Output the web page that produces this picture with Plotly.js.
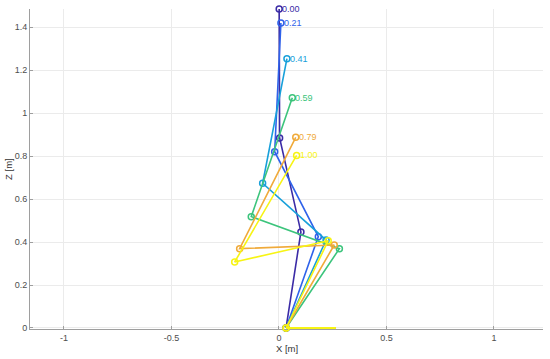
<!DOCTYPE html>
<html>
<head>
<meta charset="utf-8">
<script src="https://cdn.plot.ly/plotly-3.0.1.min.js"></script>
<style>html,body{margin:0;padding:0;background:#fff;}#plot{width:550px;height:359px;}</style>
</head>
<body>
<div id="plot"></div>
<script>
// Snapshot times (labels) and joint coordinates [m]
const times  = ["0.00", "0.21", "0.41", "0.59", "0.79", "1.00"];
const colors = ["#3b2ba6", "#2f62ea", "#18a0da", "#3cc47c", "#f0aa3a", "#f7f414"];
const topX   = [0.001, 0.009, 0.037, 0.062, 0.078, 0.082];
const topZ   = [1.484, 1.419, 1.253, 1.071, 0.887, 0.803];
const kneeX  = [0.003, -0.020, -0.076, -0.129, -0.183, -0.206];
const kneeZ  = [0.884, 0.820, 0.673, 0.518, 0.369, 0.307];
const ankleX = [0.102, 0.183, 0.219, 0.281, 0.257, 0.229];
const ankleZ = [0.447, 0.425, 0.409, 0.369, 0.386, 0.406];
const heelX  = [0.033, 0.033, 0.033, 0.033, 0.033, 0.033];
const heelZ  = [0, 0, 0, 0, 0, 0];
const toeX   = [0.265, 0.265, 0.265, 0.265, 0.265, 0.265];
const toeZ   = [0, 0, 0, 0, 0, 0];

const FONT = 'Liberation Sans, Arial, sans-serif';
const traces = [];
const annotations = [];
for (let i = 0; i < times.length; i++) {
  traces.push({
    type: 'scatter', mode: 'lines',
    x: [heelX[i], toeX[i]], y: [heelZ[i], toeZ[i]],
    line: {color: colors[i], width: 2},
    cliponaxis: false, showlegend: false, hoverinfo: 'skip'
  });
  traces.push({
    type: 'scatter', mode: 'lines+markers',
    x: [topX[i], kneeX[i], ankleX[i], heelX[i]],
    y: [topZ[i], kneeZ[i], ankleZ[i], heelZ[i]],
    line: {color: colors[i], width: 1.6},
    marker: {symbol: 'circle-open', size: 6, color: colors[i], line: {width: 1.5, color: colors[i]}},
    cliponaxis: false, showlegend: false, hoverinfo: 'skip'
  });
  annotations.push({
    text: times[i], x: topX[i], y: topZ[i], xref: 'x', yref: 'y',
    xanchor: 'left', yanchor: 'middle', xshift: 2, showarrow: false, borderpad: 0,
    font: {family: FONT, size: 9, color: colors[i]}
  });
}

const axisCommon = {
  showgrid: true, gridcolor: '#ebebeb', gridwidth: 1,
  zeroline: false, showline: true, linecolor: '#9e9e9e', linewidth: 1,
  ticks: 'inside', ticklen: 3, tickcolor: '#9e9e9e', mirror: false,
  tickfont: {family: FONT, size: 9, color: '#4d4d4d'},
  automargin: false, layer: 'below traces'
};

annotations.push(
  {text: 'X [m]', xref: 'paper', yref: 'paper', x: 0.5, y: 0, xanchor: 'center', yanchor: 'top', yshift: -12, showarrow: false,
   font: {family: FONT, size: 9.5, color: '#333'}},
  {text: 'Z [m]', xref: 'paper', yref: 'paper', x: -0.043, y: 0.5, xanchor: 'center', yanchor: 'middle', textangle: -90, showarrow: false,
   font: {family: FONT, size: 9.5, color: '#333'}}
);

const layout = {
  width: 550, height: 359,
  margin: {l: 30, r: 7, t: 9, b: 30},
  paper_bgcolor: '#ffffff', plot_bgcolor: '#ffffff',
  xaxis: Object.assign({}, axisCommon, {range: [-1.158, 1.228], tickvals: [-1, -0.5, 0, 0.5, 1], ticktext: ['-1', '-0.5', '0', '0.5', '1']}),
  yaxis: Object.assign({}, axisCommon, {range: [-0.0047, 1.484], tickvals: [0, 0.2, 0.4, 0.6, 0.8, 1, 1.2, 1.4], ticktext: ['0', '0.2', '0.4', '0.6', '0.8', '1', '1.2', '1.4']}),
  annotations: annotations
};

Plotly.newPlot('plot', traces, layout, {staticPlot: true, displayModeBar: false});
</script>
</body>
</html>
